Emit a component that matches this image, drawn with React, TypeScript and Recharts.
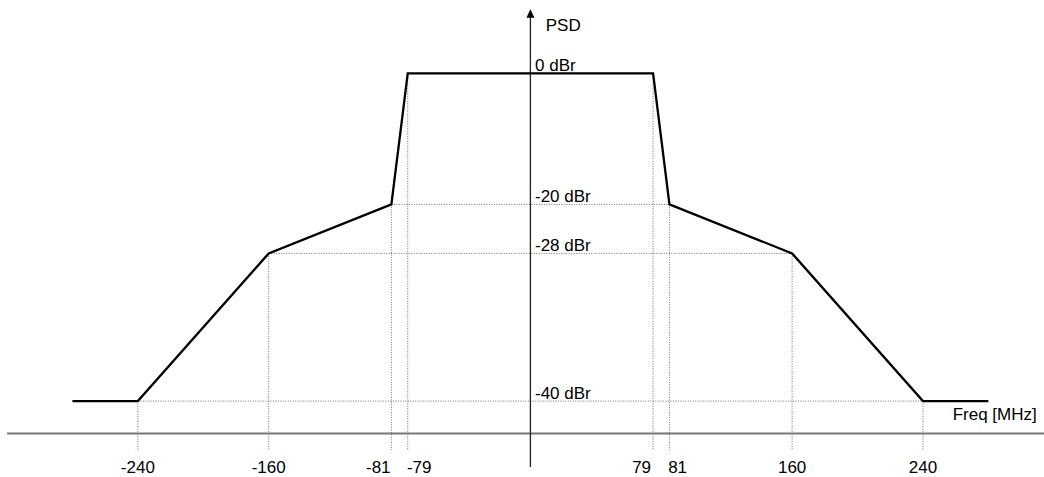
import React from 'react';
import { LineChart, Line, XAxis, YAxis, ReferenceLine, ReferenceDot } from 'recharts';

// Spectral mask, drawn schematically (positions near ±80 MHz are spread for legibility)
const maskFreqPos = [-280, -240, -160, -85, -75, 75, 85, 160, 240, 280];
const maskLevelPos = [9, 9, 50, 63.6, 100, 100, 63.6, 50, 9, 9];

// frequency tick labels and where their text is centred
const freqTickLabels = ['-240', '-160', '-81', '-79', '79', '81', '160', '240'];
const freqTickPos = [-240, -160, -93, -68, 68, 90, 160, 240];

// level labels on the PSD axis
const levelLabels = ['0 dBr', '-20 dBr', '-28 dBr', '-40 dBr'];
const levelPos = [100, 63.6, 50, 9];

const X_DOMAIN: [number, number] = [-320, 314];
const Y_DOMAIN: [number, number] = [-9.3, 117.85];
const GUIDE_BOTTOM = -4.6;

const FONT = '"Liberation Sans", Arial, Helvetica, sans-serif';
const FS = 17;

const data = maskFreqPos.map((f, i) => ({ f, psd: maskLevelPos[i] }));

// corner points (exclude the two outer ends of the mask)
const corners = data.slice(1, data.length - 1);
const leftCorners = corners.filter((c) => c.f < 0);

const FreqTick = (props: any) => {
  const { x, y, index } = props;
  return (
    <text x={x} y={y + 5.9} textAnchor="middle" fontFamily={FONT} fontSize={FS} fill="#000">
      {freqTickLabels[index]}
    </text>
  );
};

export default function App() {
  return (
    <div style={{ position: 'absolute', left: 0, top: 0, background: '#fff' }}>
      <LineChart
        width={1044}
        height={477}
        data={data}
        margin={{ top: 9, right: 0, bottom: 0, left: 7 }}
      >
        <XAxis
          dataKey="f"
          type="number"
          domain={X_DOMAIN}
          allowDataOverflow
          ticks={freqTickPos}
          interval={0}
          axisLine={false}
          tickLine={false}
          tickSize={0}
          tickMargin={0}
          height={10}
          tick={<FreqTick />}
        />
        <YAxis type="number" domain={Y_DOMAIN} allowDataOverflow hide />

        {/* dotted guides: vertical from each corner down past the axis */}
        {corners.map((c, i) => (
          <ReferenceLine
            key={'v' + i}
            segment={[{ x: c.f, y: c.psd }, { x: c.f, y: GUIDE_BOTTOM }]}
            stroke="#6e6e6e"
            strokeWidth={1}
            strokeDasharray="1 1.5"
          />
        ))}
        {/* dotted guides: horizontal between symmetric corners */}
        {leftCorners.map((c, i) => (
          <ReferenceLine
            key={'h' + i}
            segment={[{ x: c.f, y: c.psd }, { x: -c.f, y: c.psd }]}
            stroke="#6e6e6e"
            strokeWidth={1}
            strokeDasharray="1 1.5"
          />
        ))}

        {/* horizontal frequency axis */}
        <ReferenceLine y={0} stroke="#777777" strokeWidth={2} />
        {/* vertical PSD axis */}
        <ReferenceLine
          segment={[{ x: 0, y: Y_DOMAIN[0] }, { x: 0, y: Y_DOMAIN[1] - 2 }]}
          stroke="#222222"
          strokeWidth={1.3}
        />
        <ReferenceDot
          x={0}
          y={Y_DOMAIN[1]}
          r={0}
          shape={(p: any) => (
            <g>
              <polygon
                points={`${p.cx},${p.cy + 0.3} ${p.cx - 4},${p.cy + 8.7} ${p.cx + 4},${p.cy + 8.7}`}
                fill="#000"
              />
              <text x={p.cx + 15.3} y={p.cy + 22} fontFamily={FONT} fontSize={FS} fill="#000">
                PSD
              </text>
            </g>
          )}
        />

        {levelLabels.map((lbl, i) => (
          <ReferenceDot
            key={'l' + i}
            x={0}
            y={levelPos[i]}
            r={0}
            shape={(p: any) => (
              <text x={p.cx + 4.6} y={p.cy - 2.4} fontFamily={FONT} fontSize={FS} fill="#000">
                {lbl}
              </text>
            )}
          />
        ))}

        <ReferenceDot
          x={X_DOMAIN[1]}
          y={0}
          r={0}
          shape={(p: any) => (
            <text x={p.cx - 7.3} y={p.cy - 13.5} textAnchor="end" fontFamily={FONT} fontSize={FS} fill="#000">
              Freq [MHz]
            </text>
          )}
        />

        <Line
          type="linear"
          dataKey="psd"
          stroke="#000"
          strokeWidth={2.3}
          dot={false}
          activeDot={false}
          isAnimationActive={false}
        />
      </LineChart>
    </div>
  );
}
